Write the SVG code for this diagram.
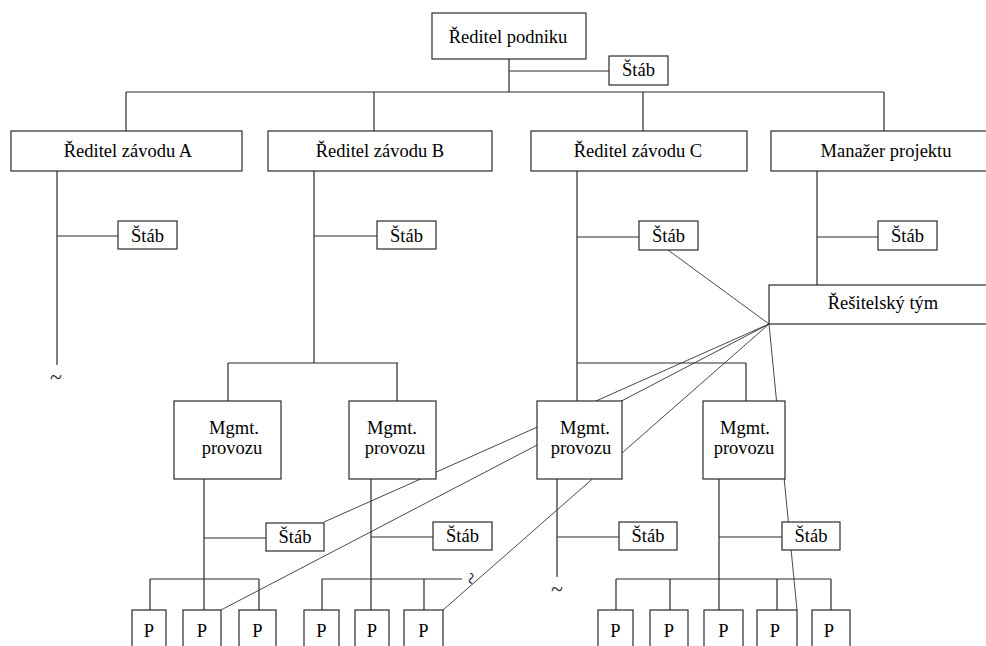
<svg xmlns="http://www.w3.org/2000/svg" width="986" height="646" viewBox="0 0 986 646">
<style>
.box{fill:#fff;stroke:#2a2a2a;stroke-width:1.2}
.ln{stroke:#2a2a2a;stroke-width:1.2;fill:none}
.th{stroke:#333;stroke-width:0.9;fill:none}
.t{font-family:'Liberation Serif','Times New Roman','DejaVu Serif',serif;font-size:18.5px;fill:#000;text-anchor:middle}
.tl{font-family:'Liberation Serif','Times New Roman','DejaVu Serif',serif;font-size:22px;fill:#223;text-anchor:middle}
</style>
<rect width="986" height="646" fill="#fff"/>
<g id="connectors">
<path class="ln" d="M509 59V92M509 71H609M126 92H884M126 92V131M374 92V131M643 92V131M884 92V131"/>
<path class="ln" d="M57 171V365M57 236H118"/>
<path class="ln" d="M314 171V363M314 236H377M228 363H398M228 363V401M397 363V401"/>
<path class="ln" d="M577 171V401M577 237H639M577 363H746M746 363V401"/>
<path class="ln" d="M817 171V285M817 237H878"/>
<path class="ln" d="M204 479V610M204 538H266M150 579H259M150 579V610M259 579V610"/>
<path class="ln" d="M371 479V610M371 537H433M322 579H462M322 579V610M424 579V610"/>
<path class="ln" d="M557 479V577M557 537H619"/>
<path class="ln" d="M719 479V610M719 537H782M616 579H831M616 579V610M670 579V610M777 579V610M831 579V610"/>
<path class="th" d="M769 324L668 250M769 324L324 522M769 324L221 610M769 324L443 610M769 324L797 610"/>
</g>
<g id="reditel-podniku"><rect class="box" x="432" y="13" width="154" height="46"/><text class="t" x="508" y="43">Ředitel podniku</text></g>
<g id="stab-top"><rect class="box" x="609" y="56" width="59" height="29"/><text class="t" x="638.5" y="76">Štáb</text></g>
<g id="zavod-a"><rect class="box" x="11" y="131" width="231" height="40"/><text class="t" x="128" y="157">Ředitel závodu A</text></g>
<g id="zavod-b"><rect class="box" x="268" y="131" width="224" height="40"/><text class="t" x="380" y="157">Ředitel závodu B</text></g>
<g id="zavod-c"><rect class="box" x="531" y="131" width="216" height="40"/><text class="t" x="638" y="157">Ředitel závodu C</text></g>
<g id="manazer"><rect class="box" x="771" y="131" width="230" height="40"/><text class="t" x="886" y="157">Manažer projektu</text></g>
<g id="stab-a"><rect class="box" x="118" y="221" width="59" height="28"/><text class="t" x="147.5" y="242">Štáb</text></g>
<g id="stab-b"><rect class="box" x="377" y="221" width="59" height="28"/><text class="t" x="406.5" y="242">Štáb</text></g>
<g id="stab-c"><rect class="box" x="639" y="221" width="59" height="29"/><text class="t" x="668.5" y="242">Štáb</text></g>
<g id="stab-m"><rect class="box" x="878" y="221" width="59" height="29"/><text class="t" x="907.5" y="242">Štáb</text></g>
<g id="resitelsky-tym"><rect class="box" x="769" y="285" width="232" height="39"/><text class="t" x="883" y="309">Řešitelský tým</text></g>
<g id="tilde-a"><text class="tl" x="56" y="384">~</text></g>
<g id="mgmt-1"><rect class="box" x="174" y="401" width="107" height="78"/><text class="t" x="234" y="434">Mgmt.</text><text class="t" x="232" y="454">provozu</text></g>
<g id="mgmt-2"><rect class="box" x="349" y="401" width="87" height="78"/><text class="t" x="392" y="434">Mgmt.</text><text class="t" x="395" y="454">provozu</text></g>
<g id="mgmt-3"><rect class="box" x="537" y="401" width="85" height="78"/><text class="t" x="585" y="434">Mgmt.</text><text class="t" x="581" y="454">provozu</text></g>
<g id="mgmt-4"><rect class="box" x="703" y="401" width="82" height="78"/><text class="t" x="745" y="434">Mgmt.</text><text class="t" x="744" y="454">provozu</text></g>
<g id="stab-1"><rect class="box" x="266" y="523" width="58" height="28"/><text class="t" x="295" y="543">Štáb</text></g>
<g id="stab-2"><rect class="box" x="433" y="522" width="59" height="28"/><text class="t" x="462.5" y="542">Štáb</text></g>
<g id="stab-3"><rect class="box" x="619" y="522" width="58" height="28"/><text class="t" x="648" y="542">Štáb</text></g>
<g id="stab-4"><rect class="box" x="782" y="522" width="58" height="28"/><text class="t" x="811" y="542">Štáb</text></g>
<g id="tilde-2"><text class="tl" x="0" y="0" transform="translate(464 577) rotate(100)">~</text></g>
<g id="tilde-3"><text class="tl" x="557" y="596">~</text></g>
<g id="p1"><rect class="box" x="132" y="610" width="34" height="45"/><text class="t" x="149" y="637">P</text></g>
<g id="p2"><rect class="box" x="183" y="610" width="38" height="45"/><text class="t" x="202" y="637">P</text></g>
<g id="p3"><rect class="box" x="239" y="610" width="37" height="45"/><text class="t" x="257.5" y="637">P</text></g>
<g id="p4"><rect class="box" x="304" y="610" width="35" height="45"/><text class="t" x="321.5" y="637">P</text></g>
<g id="p5"><rect class="box" x="355" y="610" width="34" height="45"/><text class="t" x="372" y="637">P</text></g>
<g id="p6"><rect class="box" x="404" y="610" width="39" height="45"/><text class="t" x="423.5" y="637">P</text></g>
<g id="p7"><rect class="box" x="598" y="610" width="35" height="45"/><text class="t" x="615.5" y="637">P</text></g>
<g id="p8"><rect class="box" x="650" y="610" width="38" height="45"/><text class="t" x="669" y="637">P</text></g>
<g id="p9"><rect class="box" x="704" y="610" width="39" height="45"/><text class="t" x="723.5" y="637">P</text></g>
<g id="p10"><rect class="box" x="757" y="610" width="40" height="45"/><text class="t" x="775" y="637">P</text></g>
<g id="p11"><rect class="box" x="812" y="610" width="38" height="45"/><text class="t" x="829" y="637">P</text></g>
</svg>
